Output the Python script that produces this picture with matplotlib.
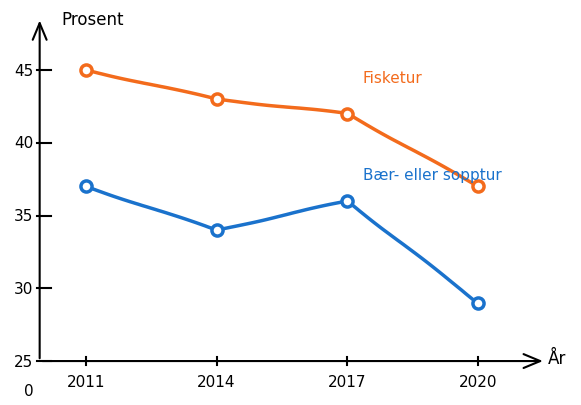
import matplotlib
matplotlib.use("Agg")
import matplotlib.pyplot as plt

years = [2011, 2014, 2017, 2020]
fisketur = [45, 43, 42, 37]
baer_sopp = [37, 34, 36, 29]
yticks = [25, 30, 35, 40, 45]

orange = "#f36b1c"
blue = "#1a72cc"

fig = plt.figure(figsize=(5.81, 4.06), dpi=100)
ax = fig.add_axes([0, 0, 1, 1])
ax.set_xlim(2009.03, 2022.36)
ax.set_ylim(21.98, 49.88)
ax.axis("off")

sk = dict(scale=0.6, length=150, randomness=2)

for vals, col in [(fisketur, orange), (baer_sopp, blue)]:
    l, = ax.plot(years, vals, color=col, lw=2.5, marker="o", ms=8,
                 mfc="white", mec=col, mew=2.5, zorder=3)
    l.set_sketch_params(**sk)

x0 = 2009.94
ax.annotate("", xy=(x0, 48.6), xytext=(x0, 25),
            arrowprops=dict(arrowstyle="->,head_length=1.2,head_width=0.5", lw=1.5, color="black"))
ax.annotate("", xy=(2021.55, 25), xytext=(x0, 25),
            arrowprops=dict(arrowstyle="->,head_length=1.2,head_width=0.5", lw=1.5, color="black"))

for y in yticks:
    ax.plot([x0 - 0.05, x0 + 0.25], [y, y], color="black", lw=1.5)
    ax.text(x0 - 0.15, y, str(y), ha="right", va="center", fontsize=11)
for x in years:
    ax.plot([x, x], [25.3, 24.7], color="black", lw=1.5)
    ax.text(x, 24.1, str(x), ha="center", va="top", fontsize=11)

ax.text(x0 - 0.25, 23.0, "0", ha="center", va="center", fontsize=11)
ax.text(x0 + 0.5, 48.5, "Prosent", ha="left", va="center", fontsize=12)
ax.text(2021.6, 25.2, "År", ha="left", va="center", fontsize=12)
ax.text(2017.35, 44.5, "Fisketur", color=orange, fontsize=11, ha="left", va="center")
ax.text(2017.35, 37.8, "Bær- eller sopptur", color=blue, fontsize=11, ha="left", va="center")

fig.savefig("out.png", dpi=100)
